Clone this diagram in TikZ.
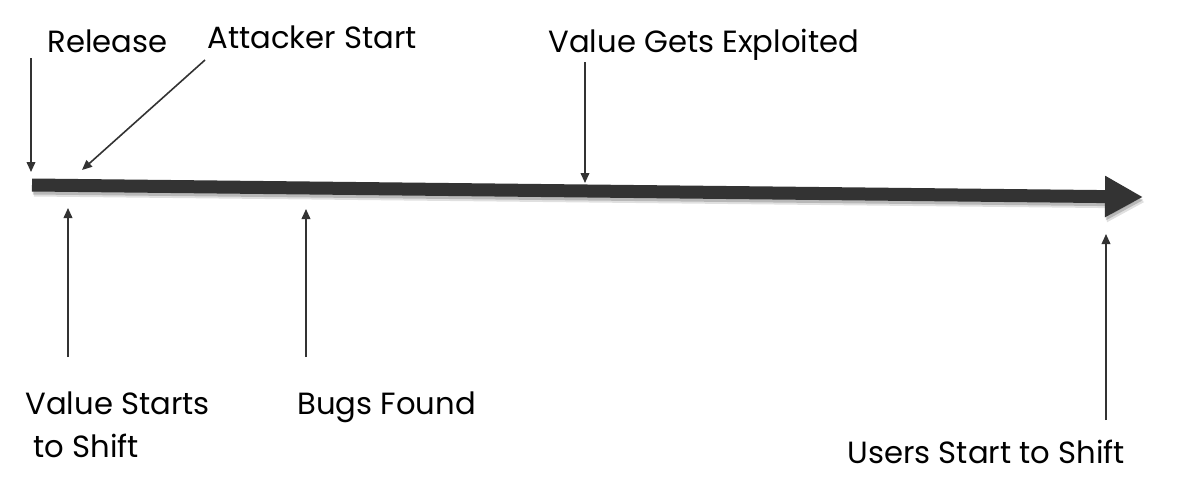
\documentclass[tikz,border=0pt]{standalone}
\usepackage{fontspec}
\setmainfont{Poppins}
\usetikzlibrary{arrows.meta}
\definecolor{timeline}{RGB}{51,51,51}
\tikzset{every picture/.style={line width=0.75pt}}
\tikzset{
  event label/.style={anchor=base west,inner sep=0pt,align=left,font=\fontsize{23}{32}\selectfont},
  pointer/.style={color=timeline,line width=1.2pt,-{Triangle[length=7.5pt,width=6.5pt]}},
  shaft/.style={line width=9.75pt,-{Triangle[length=28.5pt,width=29pt]}},
}

\begin{document}
\begin{tikzpicture}[x=0.75pt,y=0.75pt,yscale=-1,xscale=1]
\useasboundingbox (0,0) rectangle (1190,496);

%Timeline
\coordinate (tl start) at (32,185);
\coordinate (tl end) at (1143,197);
\draw [shaft,color=black,opacity=0.12] ([shift={(2,5)}]tl start) -- ([shift={(2,5)}]tl end);
\draw [shaft,color=black,opacity=0.18] ([shift={(1,3)}]tl start) -- ([shift={(1,3)}]tl end);
\draw [shaft,color=timeline] (tl start) -- (tl end);

%Points on the timeline
\coordinate (at release) at (31,172);
\coordinate (at attacker) at (82,170);
\coordinate (at exploit) at (585,183);
\coordinate (at value) at (68,208);
\coordinate (at bugs) at (306,209);
\coordinate (at users) at (1106,234);

% Text Node
\draw (47,52) node [event label] (release) {Release};
% Text Node
\draw (207,48) node [event label] (attacker) {Attacker Start};
% Text Node
\draw (548,52) node [event label] (exploit) {Value Gets Exploited};
% Text Node
\draw (25,457) node [event label] (value) {Value Starts\\\ to Shift};
% Text Node
\draw (297,414) node [event label] (bugs) {Bugs Found};
% Text Node
\draw (847,463) node [event label] (users) {Users Start to Shift};

%Pointers
\draw [pointer] (release.base west) ++(-16,6) -- (at release);
\draw [pointer] (attacker.base west) ++(-2,12) -- (at attacker);
\draw [pointer] (exploit.base west) ++(37,10) -- (at exploit);
\draw [pointer] (value.base west) ++(43,-100) -- (at value);
\draw [pointer] (bugs.base west) ++(9,-57) -- (at bugs);
\draw [pointer] (users.base west) ++(259,-43) -- (at users);

\end{tikzpicture}
\end{document}
